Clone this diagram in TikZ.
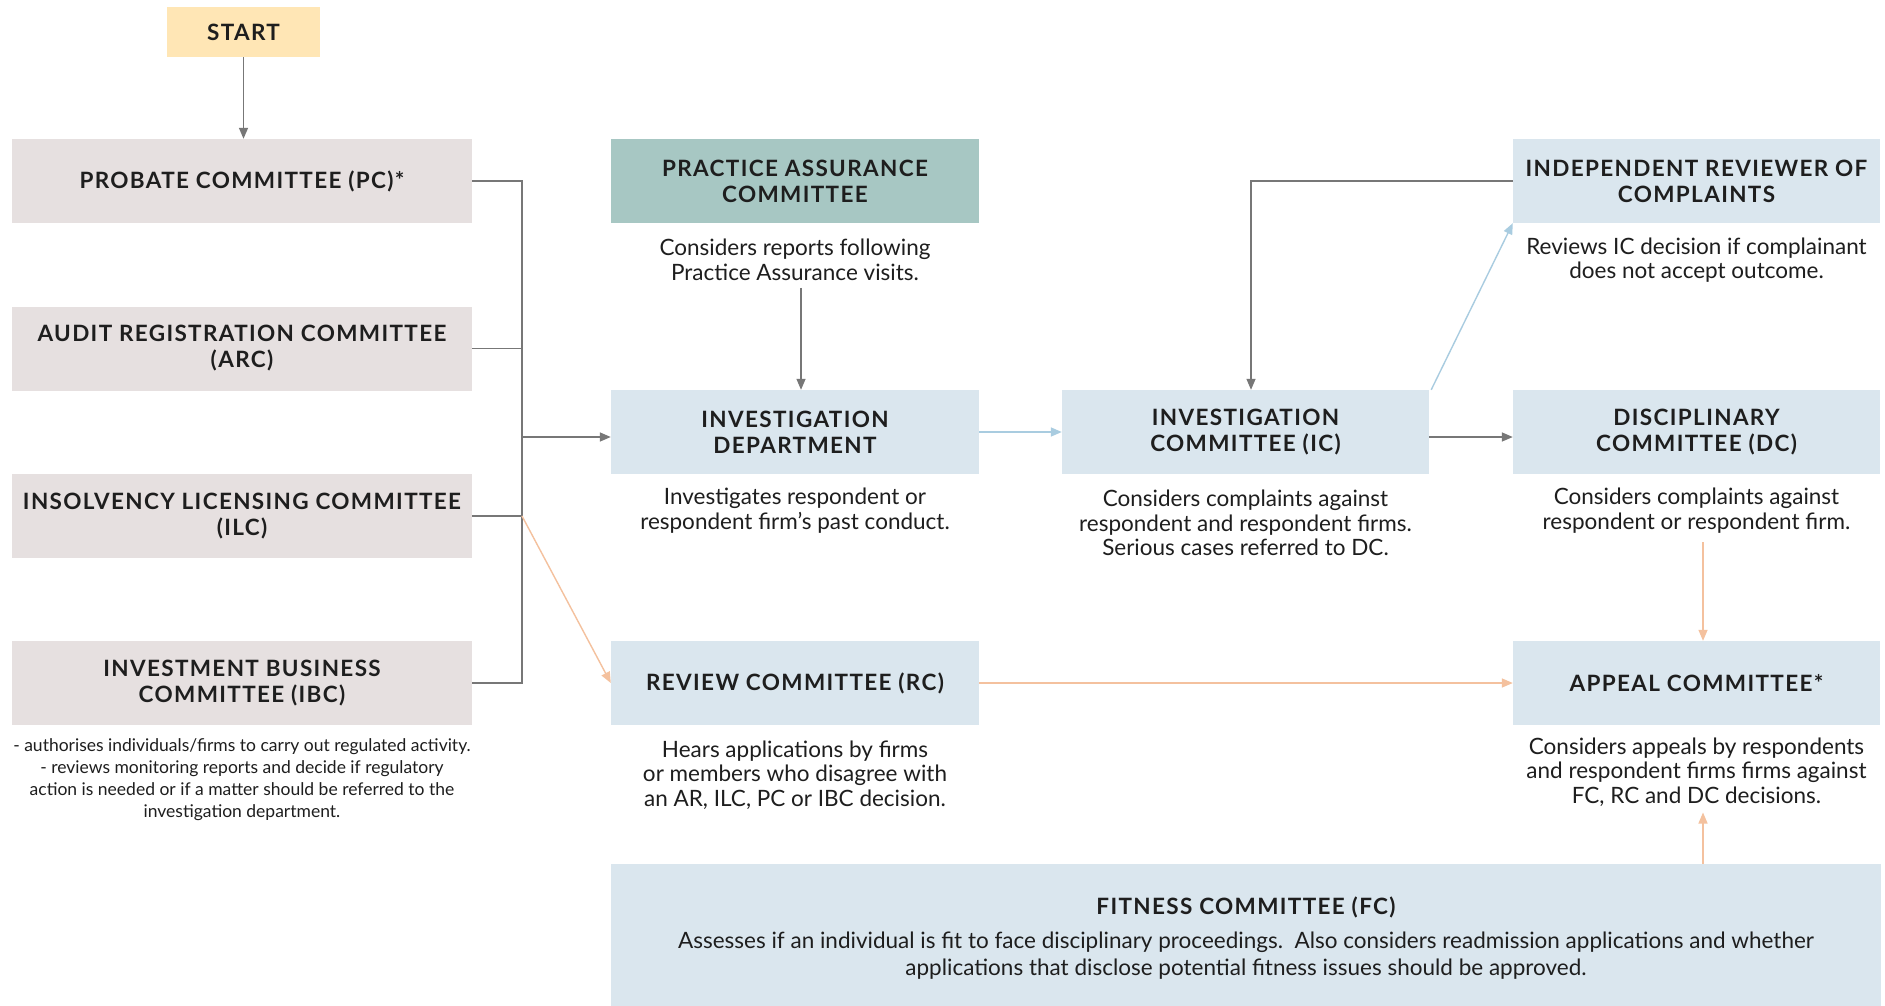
\documentclass[tikz,border=0pt]{standalone}
\usepackage{fontspec}
\setmainfont{Lato}
\newfontfamily\titlefont{Lato}[LetterSpace=6.0]
\usetikzlibrary{arrows.meta}
\definecolor{startfill}{HTML}{FFE6B5}
\definecolor{leftfill}{HTML}{E6E0E0}
\definecolor{pacfill}{HTML}{A7C7C3}
\definecolor{bluefill}{HTML}{DAE6EE}
\definecolor{grayline}{HTML}{777777}
\definecolor{blueline}{HTML}{A9CCE0}
\definecolor{orangeline}{HTML}{F4C19E}
\definecolor{txt}{HTML}{1E1E1E}
\tikzset{
  box/.style={inner sep=0pt, align=center, text=txt,
    font=\titlefont\bfseries\fontsize{22.5}{26}\selectfont},
  leftbox/.style={box, fill=leftfill, minimum width=460pt, minimum height=84pt},
  midbox/.style={box, fill=bluefill, minimum width=368pt, minimum height=84pt},
  desc/.style={inner sep=0pt, align=center, text=txt,
    font=\fontsize{22.5}{24.5}\selectfont},
  gline/.style={draw=grayline, line width=1.4pt},
  garrow/.style={gline, -{Triangle[length=11pt,width=9pt]}},
  barrow/.style={draw=blueline, line width=1.4pt, -{Triangle[length=11pt,width=9pt]}},
  oarrow/.style={draw=orangeline, line width=1.4pt, -{Triangle[length=11pt,width=9pt]}},
}
\begin{document}
\begin{tikzpicture}[x=1pt,y=-1pt]
\useasboundingbox (0,0) rectangle (1885,1006);
\fill[white] (0,0) rectangle (1885,1006);

% left column
\node[box, fill=startfill, minimum width=153pt, minimum height=50pt] (start) at (243.5,32) {START};
\node[leftbox] (pc)  at (242,181)   {PROBATE COMMITTEE (PC)*};
\node[leftbox] (arc) at (242,348.5) {AUDIT REGISTRATION COMMITTEE\\(ARC)};
\node[leftbox] (ilc) at (242,516)   {INSOLVENCY LICENSING COMMITTEE\\(ILC)};
\node[leftbox] (ibc) at (242,683)   {INVESTMENT BUSINESS\\COMMITTEE (IBC)};
\node[inner sep=0pt, align=center, text=txt, font=\fontsize{17.5}{22}\selectfont] (note) at (242,780)
  {- authorises individuals/firms to carry out regulated activity.\\
   - reviews monitoring reports and decide if regulatory\\
   action is needed or if a matter should be referred to the\\
   investigation department.};

% middle column
\node[midbox, fill=pacfill] (pac) at (795,181) {PRACTICE ASSURANCE\\COMMITTEE};
\node[desc] (pacd) at (795,260) {Considers reports following\\Practice Assurance visits.};
\node[midbox] (id) at (795,432) {INVESTIGATION\\DEPARTMENT};
\node[desc] (idd) at (795,510.5) {Investigates respondent or\\respondent firm’s past conduct.};
\node[midbox] (rc) at (795,683) {REVIEW COMMITTEE (RC)};
\node[desc] (rcd) at (795,775) {Hears applications by firms\\or members who disagree with\\an AR, ILC, PC or IBC decision.};

% investigation committee
\node[midbox, minimum width=367pt] (ic) at (1245.5,432) {INVESTIGATION\\COMMITTEE (IC)};
\node[desc] (icd) at (1245.5,523) {Considers complaints against\\respondent and respondent firms.\\Serious cases referred to DC.};

% right column
\node[midbox, minimum width=367pt] (irc) at (1696.5,181) {INDEPENDENT REVIEWER OF\\COMPLAINTS};
\node[desc] (ircd) at (1696.5,260) {Reviews IC decision if complainant\\does not accept outcome.};
\node[midbox, minimum width=367pt] (dc) at (1696.5,432) {DISCIPLINARY\\COMMITTEE (DC)};
\node[desc] (dcd) at (1696.5,510.5) {Considers complaints against\\respondent or respondent firm.};
\node[midbox, minimum width=367pt] (app) at (1696.5,683) {APPEAL COMMITTEE*};
\node[desc] (appd) at (1696.5,772) {Considers appeals by respondents\\and respondent firms firms against\\FC, RC and DC decisions.};

% fitness committee
\node[box, fill=bluefill, minimum width=1270pt, minimum height=142pt] (fc) at (1246,935) {};
\node[box] (fct) at (1246,907) {FITNESS COMMITTEE (FC)};
\node[desc, font=\fontsize{22.5}{27}\selectfont] (fcd) at (1246,955.5)
  {Assesses if an individual is fit to face disciplinary proceedings.\ \ Also considers readmission applications and whether\\
   applications that disclose potential fitness issues should be approved.};

% connectors
\coordinate (busx) at (522,0);
\draw[garrow] (start.south) -- (start.south |- pc.north);
\draw[gline] (pc.east) -- (pc.east -| busx) -- (ibc.east -| busx) -- (ibc.east);
\draw[gline] (arc.east) -- (arc.east -| busx);
\draw[gline] (ilc.east) -- (ilc.east -| busx);
\draw[garrow] ([yshift=-5pt]id.west -| busx) -- ([yshift=-5pt]id.west);
\draw[oarrow] (ilc.east -| busx) -- (rc.west);

\draw[garrow] ([xshift=6pt,yshift=-7pt]pacd.south) -- ([xshift=6pt]id.north);
\draw[barrow] (id.east) -- (ic.west);
\draw[garrow] (irc.west) -| ([xshift=5.5pt]ic.north);
\draw[barrow] ([xshift=2pt]ic.north east) -- (irc.south west);
\draw[garrow] ([yshift=-5pt]ic.east) -- ([yshift=-5pt]dc.west);

\draw[oarrow] ([xshift=6.5pt,yshift=-9pt]dcd.south) -- ([xshift=6.5pt]app.north);
\draw[oarrow] (rc.east) -- (app.west);
\draw[oarrow] ([xshift=6.5pt]fc.north -| app.north) -- ([xshift=6.5pt,yshift=-6pt]appd.south);
\end{tikzpicture}
\end{document}
